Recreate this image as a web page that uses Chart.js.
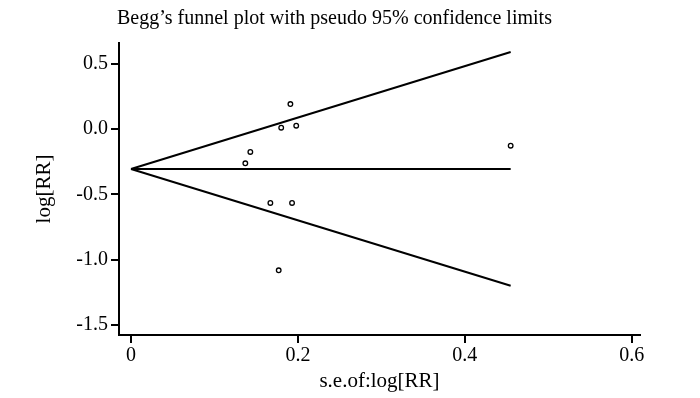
<!DOCTYPE html>
<html>
<head>
<meta charset="utf-8">
<script src="https://cdn.jsdelivr.net/npm/chart.js@4.4.0/dist/chart.umd.min.js"></script>
<style>
  html, body { margin: 0; padding: 0; background: #fff; }
  #wrap { width: 700px; height: 398px; }
</style>
</head>
<body>
<div id="wrap"><canvas id="funnel" width="700" height="398"></canvas></div>
<script>
// studies: standard error and log[RR]
const seValues = [0.191, 0.180, 0.198, 0.143, 0.137, 0.167, 0.193, 0.177, 0.455];
const logRR = [0.193, 0.012, 0.027, -0.174, -0.261, -0.565, -0.565, -1.081, -0.126];

// pseudo 95% confidence limits (end points)
const limitSE = [0, 0.455];
const upperLimit = [-0.305, 0.592];
const pooledLine = [-0.305, -0.305];
const lowerLimit = [-0.305, -1.199];

const xTicks = [0, 0.2, 0.4, 0.6];
const yTicks = [-1.5, -1.0, -0.5, 0.0, 0.5];

const chartTitle = 'Begg\u2019s funnel plot with pseudo 95% confidence limits';
const xTitle = 's.e.of:log[RR]';
const yTitle = 'log[RR]';

const FONT = "'Liberation Serif', 'Times New Roman', serif";

const toPts = (xs, ys) => xs.map((x, i) => ({ x: x, y: ys[i] }));

const lineStyle = {
    type: 'line',
    showLine: true,
    borderColor: '#000',
    borderWidth: 2,
    pointRadius: 0,
    fill: false,
    tension: 0
};

// title drawn left-aligned with the plot area
const titlePlugin = {
    id: 'leftTitle',
    afterDraw(chart) {
        const ctx = chart.ctx;
        ctx.save();
        ctx.font = '20px ' + FONT;
        ctx.fillStyle = '#000';
        ctx.textAlign = 'left';
        ctx.textBaseline = 'middle';
        ctx.fillText(chartTitle, chart.chartArea.left - 2, 19);
        ctx.restore();
    }
};

const ctx = document.getElementById('funnel').getContext('2d');
new Chart(ctx, {
    data: {
        datasets: [
            Object.assign({ data: toPts(limitSE, upperLimit) }, lineStyle),
            Object.assign({ data: toPts(limitSE, pooledLine) }, lineStyle),
            Object.assign({ data: toPts(limitSE, lowerLimit) }, lineStyle),
            {
                type: 'scatter',
                data: toPts(seValues, logRR),
                pointStyle: 'circle',
                pointRadius: 2.3,
                borderWidth: 1.3,
                borderColor: '#000',
                backgroundColor: '#fff'
            }
        ]
    },
    options: {
        responsive: false,
        animation: false,
        devicePixelRatio: 1,
        layout: { padding: { top: 43, right: 60, left: 0, bottom: 0 } },
        plugins: {
            legend: { display: false },
            tooltip: { enabled: false }
        },
        scales: {
            x: {
                type: 'linear',
                min: -0.0144,
                max: 0.61,
                afterBuildTicks: (scale) => { scale.ticks = xTicks.map(v => ({ value: v })); },
                afterFit: (scale) => { scale.height = 63; },
                grid: { drawOnChartArea: false, drawTicks: true, tickLength: 8, color: '#000', lineWidth: 2 },
                border: { display: true, color: '#000', width: 2 },
                ticks: {
                    color: '#000',
                    padding: 1,
                    font: { family: FONT, size: 20 },
                    callback: (v) => v === 0 ? '0' : v.toFixed(1)
                },
                title: {
                    display: true,
                    text: xTitle,
                    color: '#000',
                    font: { family: FONT, size: 21 },
                    padding: { top: 0, bottom: 4 }
                }
            },
            y: {
                type: 'linear',
                min: -1.577,
                max: 0.661,
                afterBuildTicks: (scale) => { scale.ticks = yTicks.map(v => ({ value: v })); },
                afterFit: (scale) => { scale.width = 119; },
                grid: { drawOnChartArea: false, drawTicks: true, tickLength: 8, color: '#000', lineWidth: 2 },
                border: { display: true, color: '#000', width: 2 },
                ticks: {
                    color: '#000',
                    padding: 3,
                    font: { family: FONT, size: 20 },
                    callback: (v) => v.toFixed(1)
                },
                title: {
                    display: true,
                    text: yTitle,
                    color: '#000',
                    font: { family: FONT, size: 21 },
                    padding: { top: 32, bottom: 0 }
                }
            }
        }
    },
    plugins: [titlePlugin]
});
</script>
</body>
</html>
